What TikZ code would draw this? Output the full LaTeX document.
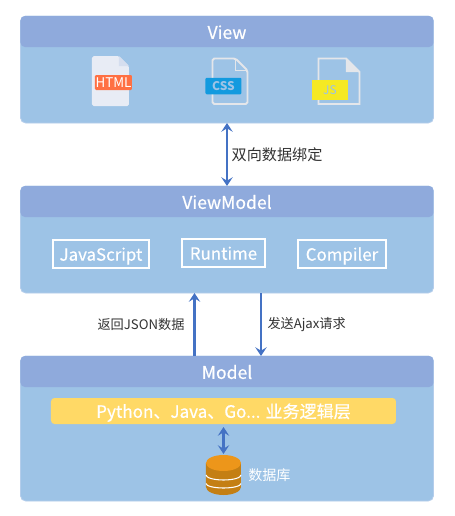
\documentclass[tikz,border=0pt]{standalone}
\usepackage{fontspec}
\setmainfont{Noto Sans CJK SC}
\newfontfamily\titlefont[FakeBold=0.5]{Noto Sans CJK SC}
\usepackage{xcolor}
\usetikzlibrary{arrows.meta, positioning, calc}
\definecolor{mypanel}{HTML}{9DC3E6}
\definecolor{myframe}{HTML}{B4CDEB}
\definecolor{myhead}{HTML}{8FAADC}
\definecolor{myarrow}{HTML}{4472C4}
\definecolor{myyellow}{HTML}{FFD966}
\definecolor{mydbtop}{HTML}{ED961A}
\definecolor{mydbside}{HTML}{C47F14}
\definecolor{mydoc}{HTML}{E8ECF5}
\definecolor{myfold}{HTML}{D5DEEF}
\definecolor{myorange}{HTML}{FF7043}
\definecolor{myblue}{HTML}{129ADF}
\definecolor{mylemon}{HTML}{F5E923}
\definecolor{myline}{HTML}{E4E6EA}
\definecolor{mytext}{HTML}{333333}
\tikzset{
  panel/.style={rectangle, draw=myframe, fill=mypanel, minimum width=8.26cm, rounded corners=3pt,
    outer sep=0pt, line width=0.5pt},
  header/.style={rectangle, fill=myhead, minimum width=8.26cm, minimum height=0.62cm, rounded corners=2.5pt,
    outer sep=0pt, text=white, text height=8.4pt, text depth=0pt, font=\titlefont\fontsize{10}{10}\selectfont},
  codebox/.style={rectangle, draw=white, text=white, minimum height=0.56cm, inner sep=0pt, line width=0.6pt,
    outer sep=0pt, text height=7.6pt, text depth=0pt, font=\titlefont\fontsize{9.6}{10}\selectfont},
  badge/.style={rectangle, minimum width=0.72cm, inner sep=0pt, outer sep=0pt, rounded corners=0.6pt},
  dbl/.style={{Stealth[length=5pt,width=6.5pt,inset=2pt]}-{Stealth[length=5pt,width=6.5pt,inset=2pt]}, color=myarrow, line width=1.4pt},
  single/.style={-{Stealth[length=5pt,width=6.5pt,inset=2pt]}, color=myarrow, line width=1.4pt},
  note/.style={text=mytext, inner sep=0pt}
}
\begin{document}
\begin{tikzpicture}
\useasboundingbox (0,0) rectangle (9.08,-10.32);
\fill[white] (0,0) rectangle (9.08,-10.32);

% three layers
\node[panel, minimum height=2.14cm] (view) at (4.54,-1.39) {};
\node[panel, minimum height=2.14cm, below=1.26cm of view] (vm) {};
\node[panel, minimum height=2.9cm, below=1.26cm of vm] (model) {};
\node[header, below=0pt of view.north] (viewhead) {View};
\node[header, below=0pt of vm.north] (vmhead) {ViewModel};
\node[header, below=0pt of model.north] (modelhead) {Model};

% file icons
\fill[mydoc, rounded corners=1pt] (1.84,-1.12) -- (2.38,-1.12) -- (2.58,-1.32) -- (2.58,-2.12) -- (1.84,-2.12) -- cycle;
\fill[myfold] (2.38,-1.12) -- (2.58,-1.32) -- (2.38,-1.32) -- cycle;
\node[badge, fill=myorange, minimum width=0.74cm, minimum height=0.3cm, text=white,
  font=\fontsize{7.6}{8}\selectfont] (html) at (2.27,-1.65) {HTML};

\draw[myline, line width=1.1pt, rounded corners=1pt] (4.25,-1.17) -- (4.71,-1.17) -- (4.95,-1.41) -- (4.95,-2.08) -- (4.25,-2.08) -- cycle;
\draw[myline, line width=1.1pt] (4.71,-1.17) -- (4.71,-1.41) -- (4.95,-1.41);
\node[badge, fill=myblue, minimum height=0.33cm, text=mypanel,
  font=\fontsize{6.8}{7}\bfseries\selectfont] (css) at (4.47,-1.72) {CSS};

\draw[myline, line width=1.1pt] (6.37,-1.17) -- (6.92,-1.17) -- (7.19,-1.44) -- (7.19,-2.08) -- (6.37,-2.08) -- cycle;
\fill[myline] (6.92,-1.17) -- (7.19,-1.44) -- (6.92,-1.44) -- cycle;
\node[badge, fill=mylemon, rounded corners=0pt, minimum height=0.4cm, text=mypanel,
  font=\fontsize{6.8}{7}\selectfont] (js) at (6.6,-1.8) {JS};

% boxes of the middle layer
\node[codebox, minimum width=1.92cm, below=0.46cm of vmhead, xshift=-2.52cm] (script) {JavaScript};
\node[codebox, minimum width=1.66cm, right=0.66cm of script, yshift=0.02cm] (runtime) {Runtime};
\node[codebox, minimum width=1.76cm, right=0.66cm of runtime, yshift=-0.02cm] (compiler) {Compiler};

% bottom layer
\node[rectangle, fill=myyellow, minimum width=6.9cm, minimum height=0.52cm, rounded corners=2pt, text=white,
  outer sep=0pt, text height=7.7pt, text depth=0pt, font=\titlefont\fontsize{9.7}{10}\selectfont,
  below=0.22cm of modelhead, xshift=-0.07cm] (logic) {Python、Java、Go... 业务逻辑层};
\node[rectangle, minimum width=0.7cm, minimum height=0.8cm, inner sep=0pt, outer sep=0pt,
  below=0.62cm of logic] (db) {};
\fill[mydbside] (db.north west) ++(0,-0.16) -- ++(0,-0.48) arc[start angle=180, end angle=360, x radius=0.35, y radius=0.16]
  -- ++(0,0.48) -- cycle;
\fill[mydbtop] ($(db.north)+(0,-0.16)$) ellipse[x radius=0.35, y radius=0.16];
\draw[white, line width=0.6pt] ($(db.center)+(-0.35,0)$) arc[start angle=180, end angle=360, x radius=0.35, y radius=0.1];
\draw[white, line width=0.6pt] ($(db.center)+(-0.35,-0.17)$) arc[start angle=180, end angle=360, x radius=0.35, y radius=0.09];
\node[note, text=white, font=\fontsize{8}{8}\selectfont, right=0.14cm of db, yshift=0cm] (dblabel) {数据库};

% connectors
\draw[dbl] (view.south) -- (vm.north) node[midway, right=2pt, note, font=\fontsize{8.6}{9}\selectfont] (bind) {双向数据绑定};
\draw[single] ([xshift=-0.65cm]model.north) -- ([xshift=-0.65cm]vm.south)
  node[midway, left=5pt, note, font=\fontsize{7.5}{8}\selectfont] (back) {返回JSON数据};
\draw[single] ([xshift=0.68cm]vm.south) -- ([xshift=0.68cm]model.north)
  node[midway, right=3pt, note, font=\fontsize{7.5}{8}\selectfont] (send) {发送Ajax请求};
\draw[dbl, shorten <=0.06cm, shorten >=0.02cm] (logic.south) -- (db.north);
\end{tikzpicture}
\end{document}
